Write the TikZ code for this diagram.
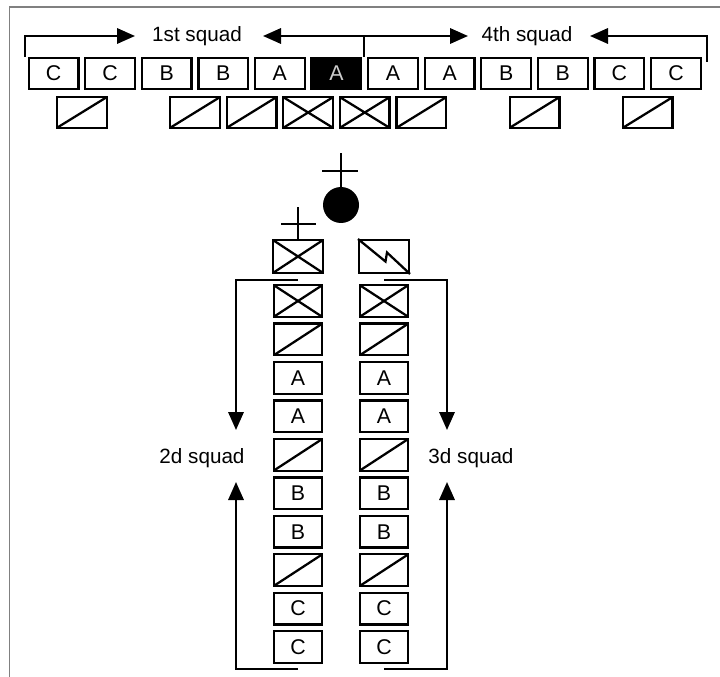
\documentclass[tikz,border=0pt]{standalone}
\usepackage{fontspec}
\setmainfont{Liberation Sans}
\usetikzlibrary{arrows.meta,calc}
\begin{document}
\begin{tikzpicture}[x=0.75pt,y=-0.75pt,
  lw/.style={line width=1.7pt},
  unit/.style={draw,line width=1.7pt,minimum width=37.3pt,minimum height=23pt,inner sep=0pt,font=\fontsize{16}{16}\selectfont},
  colunit/.style={unit,minimum width=36.5pt,minimum height=23.8pt},
  slashbox/.style={path picture={\draw[line width=1.7pt] (path picture bounding box.south west) -- (path picture bounding box.north east);}},
  crossbox/.style={path picture={\draw[line width=1.7pt] (path picture bounding box.south west) -- (path picture bounding box.north east) (path picture bounding box.north west) -- (path picture bounding box.south east);}},
  plainbox/.style={},
  lead/.style={line width=1.7pt,-{Triangle[length=13.5pt,width=11.5pt]}},
  squad/.style={font=\fontsize{15.5}{15.5}\selectfont,inner sep=0pt},
  framestyle/.style={draw=gray,line width=0.8pt}
]
\useasboundingbox (0,0) rectangle (720,677);
\draw[framestyle] (720,7) -- (9.5,7) -- (9.5,677);

% top row
\foreach \i/\t in {0/C,1/C,2/B,3/B,4/A,6/A,7/A,8/B,9/B,10/C,11/C}
  \node[unit] (t\i) at ({53.5+56.59*\i},73.5) {\t};
\node[unit,fill=black,text=white!80!black] (t5) at ({53.5+56.59*5},73.5) {A};

% second row
\foreach \k/\s in {0/slashbox,2/slashbox,3/slashbox,4/crossbox,5/crossbox,6/slashbox,8/slashbox,10/slashbox}
  \node[unit,\s] (s\k) at ({53.5+56.59*(\k+0.5)},112.5) {};

% labels and brackets at top
\node[squad] (l1) at (197,36) {1st squad};
\node[squad] (l4) at (527,36) {4th squad};
\coordinate (b1) at (25,57);
\coordinate (a1) at (135,36);
\coordinate (m0) at (364,57);
\coordinate (a2) at (263,36);
\coordinate (a3) at (468,36);
\coordinate (b4) at (707,62);
\coordinate (a4) at (590,36);
\draw[lead] (b1) |- (a1);
\draw[lead] (m0) |- (a2);
\draw[lead] (m0) |- (a3);
\draw[lead] (b4) |- (a4);

% platoon leader
\node[circle,fill=black,inner sep=0pt,minimum size=27pt] (pl) at (341,205) {};
\coordinate (pltop) at (341,153);
\coordinate (plh1) at (322,171);
\coordinate (plh2) at (358,171);
\draw[lw] (pl.center) -- (pltop);
\draw[lw] (plh1) -- (plh2);

% top boxes of columns
\node[colunit,crossbox,minimum width=37.3pt,minimum height=24.5pt] (sl) at (298,256.5) {};
\node[colunit,minimum width=37.3pt,minimum height=24.5pt] (rt) at (384,256.5) {};
\coordinate (sltop) at (298,207);
\coordinate (slh1) at (281,224);
\coordinate (slh2) at (316,224);
\draw[lw] (sl.north) -- (sltop);
\draw[lw] (slh1) -- (slh2);
\draw[lw,line join=miter] (rt.north west) -- ($(rt.north west)+(27.5,22.5)$) -- ($(rt.north west)+(29,13.5)$) -- (rt.south east);

% columns
\foreach \j/\t/\s in {0//crossbox,1//slashbox,2/A/plainbox,3/A/plainbox,4//slashbox,5/B/plainbox,6/B/plainbox,7//slashbox,8/C/plainbox,9/C/plainbox}{
  \node[colunit,\s] (lc\j) at (298,{301+38.45*\j}) {\t};
  \node[colunit,\s] (rc\j) at (384,{301+38.45*\j}) {\t};
}

% side arrows
\coordinate (lt) at (298,280);
\coordinate (ld) at (236,430);
\coordinate (lb) at (298,669);
\coordinate (lu) at (236,482);
\coordinate (rtop) at (384,280);
\coordinate (rd) at (447,430);
\coordinate (rb) at (384,669);
\coordinate (ru) at (447,482);
\draw[lead] (lt) -| (ld);
\draw[lead] (lb) -| (lu);
\draw[lead] (rtop) -| (rd);
\draw[lead] (rb) -| (ru);
\node[squad] (l2) at (202,458) {2d squad};
\node[squad] (l3) at (471,458) {3d squad};
\end{tikzpicture}
\end{document}
